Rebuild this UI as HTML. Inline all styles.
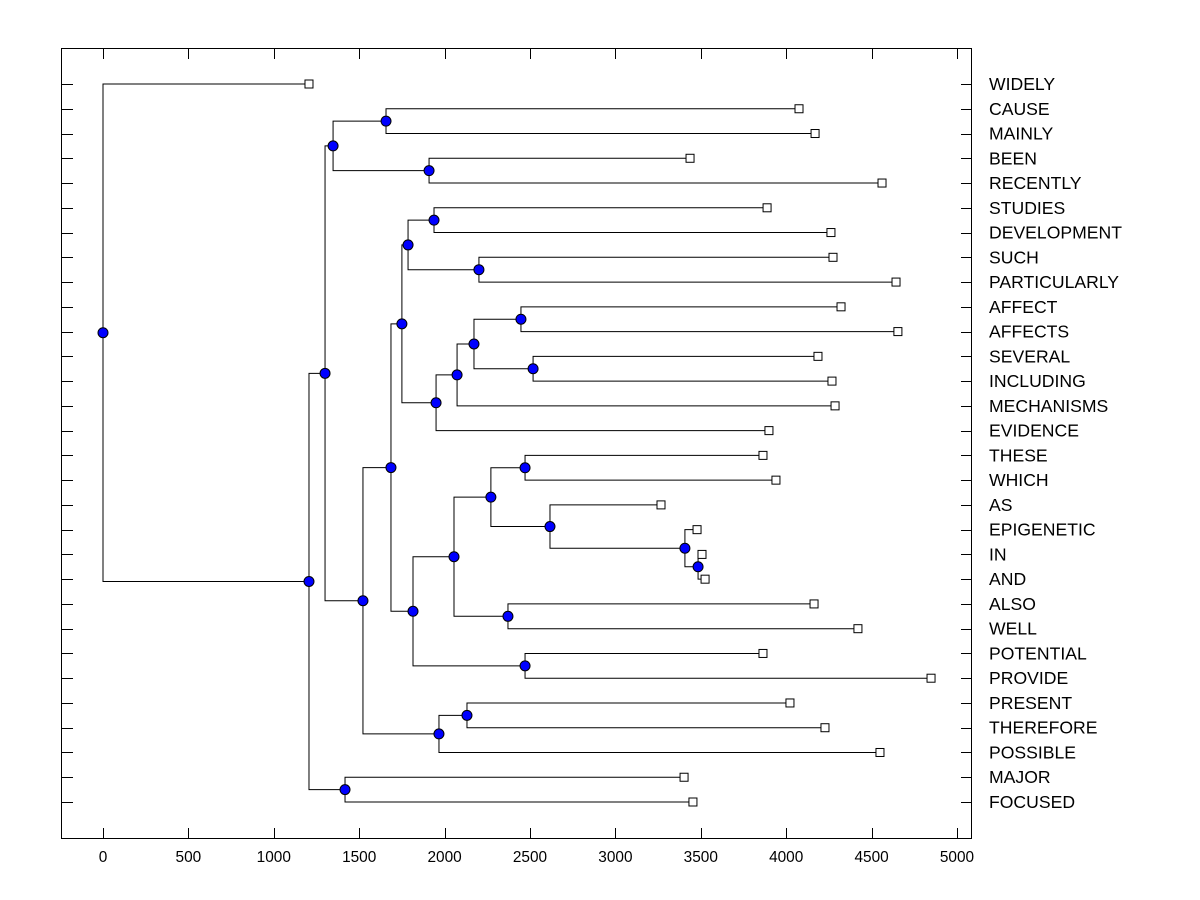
<!DOCTYPE html>
<html><head><meta charset="utf-8"><style>
body{margin:0;background:#fff;}
svg{display:block;font-family:"Liberation Sans",Arial,sans-serif;}
</style></head><body>
<svg id="chart" width="1200" height="900" viewBox="0 0 1200 900" xmlns="http://www.w3.org/2000/svg">
<rect x="0" y="0" width="1200" height="900" fill="#fff"/>
<rect x="61.5" y="48.5" width="910" height="790" fill="none" stroke="#000" stroke-width="1"/>
<g id="links"></g><g id="marks"></g><g id="axes"></g>
</svg>
<script>
const labels = ["WIDELY","CAUSE","MAINLY","BEEN","RECENTLY","STUDIES","DEVELOPMENT","SUCH","PARTICULARLY","AFFECT","AFFECTS","SEVERAL","INCLUDING","MECHANISMS","EVIDENCE","THESE","WHICH","AS","EPIGENETIC","IN","AND","ALSO","WELL","POTENTIAL","PROVIDE","PRESENT","THEREFORE","POSSIBLE","MAJOR","FOCUSED"];
const leafValues = [1206,4075,4169,3437,4561,3888,4262,4274,4643,4321,4654,4186,4268,4286,3899,3864,3940,3267,3478,3507,3525,4163,4420,3864,4848,4022,4227,4549,3402,3454];
// merges: [childA, childB, height]; leaves are 0..29, merged nodes are 30+ in order
const merges = [
 [1,2,1657],[3,4,1909],[30,31,1347],[5,6,1938],[7,8,2201],[33,34,1786],
 [9,10,2447],[11,12,2518],[36,37,2172],[38,13,2073],[39,14,1950],[35,40,1750],
 [15,16,2471],[19,20,3484],[18,43,3407],[17,44,2617],[42,45,2271],[21,22,2371],
 [46,47,2055],[23,24,2471],[48,49,1815],[41,50,1686],[25,26,2131],[52,27,1967],
 [51,53,1522],[32,54,1300],[28,29,1417],[55,56,1206],[0,57,0]
];
const xTicks = [0,500,1000,1500,2000,2500,3000,3500,4000,4500,5000];
const NS="http://www.w3.org/2000/svg";
const xs = v => 103 + v*0.1708;
const ys = i => 84 + i*(802-84)/29;
function mk(tag, attrs, parent){const e=document.createElementNS(NS,tag);for(const k in attrs)e.setAttribute(k,attrs[k]);parent.appendChild(e);return e;}
const links=document.getElementById('links'),marks=document.getElementById('marks'),axes=document.getElementById('axes');
const nodeX=[],nodeY=[];
labels.forEach((l,i)=>{nodeX[i]=xs(leafValues[i]);nodeY[i]=ys(i);});
merges.forEach((m,k)=>{
  const id=30+k,a=m[0],b=m[1],x=xs(m[2]);
  nodeX[id]=x;nodeY[id]=(nodeY[a]+nodeY[b])/2;
  const p=mk('path',{d:`M${nodeX[a]},${nodeY[a]}H${x}V${nodeY[b]}H${nodeX[b]}`,fill:'none',stroke:'#000','stroke-width':1},links);
  
  
});
merges.forEach((m,k)=>{
  const id=30+k;
  const c=mk('circle',{cx:nodeX[id],cy:nodeY[id],r:5,fill:'#0000ff',stroke:'#000','stroke-width':1},marks);
  
  
});
labels.forEach((l,i)=>{
  const r=mk('rect',{x:nodeX[i]-4,y:nodeY[i]-4,width:8,height:8,fill:'#fff',stroke:'#000','stroke-width':1},marks);
  
  
  const y=Math.round(ys(i))+0.5;
  const t1=mk('line',{x1:61,y1:y,x2:73,y2:y,stroke:'#000'},axes);
  
  
  const t2=mk('line',{x1:961,y1:y,x2:972,y2:y,stroke:'#000'},axes);
  
  
  const t=mk('text',{x:989,y:ys(i)+6,'font-size':17.6,fill:'#000'},axes);
  t.textContent=l;
  
  
});
xTicks.forEach(v=>{
  const x=Math.round(xs(v))+0.5;
  const a=mk('line',{x1:x,y1:838,x2:x,y2:828,stroke:'#000'},axes);
  
  
  const b=mk('line',{x1:x,y1:49,x2:x,y2:59,stroke:'#000'},axes);
  
  
  const t=mk('text',{x:xs(v),y:862,'font-size':15.4,'text-anchor':'middle',fill:'#000'},axes);
  t.textContent=v;
  
  
});
</script>
</body></html>
